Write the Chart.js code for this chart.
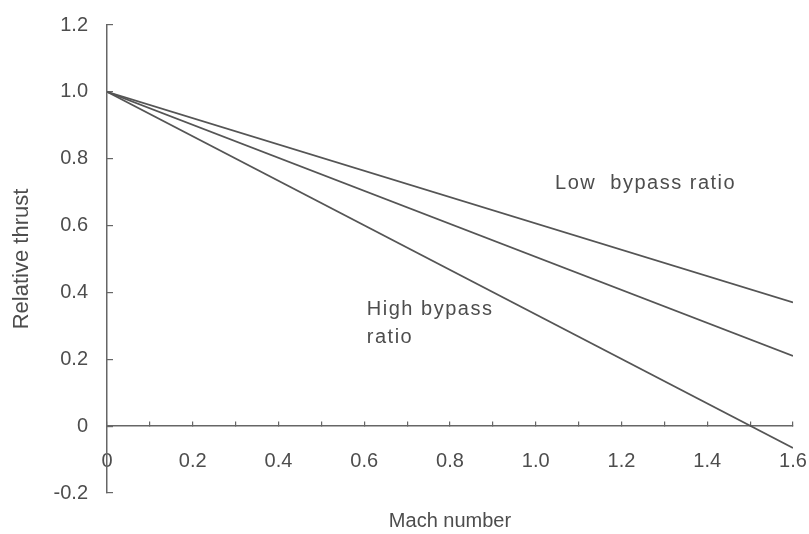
<!DOCTYPE html>
<html>
<head>
<meta charset="utf-8">
<title>Relative thrust vs Mach number</title>
<script src="https://cdn.jsdelivr.net/npm/chart.js@4"></script>
<style>
  html, body { margin: 0; padding: 0; background: #fff; }
  #wrap { width: 809px; height: 534px; }
</style>
</head>
<body>
<div id="wrap"><canvas id="chart" width="809" height="534"></canvas></div>
<script>
// Thrust lapse with Mach number for three bypass ratios (straight lines).
const MACH = [0, 1.6];
const THRUST_LOW = [1.0, 0.37];    // low bypass ratio
const THRUST_MID = [1.0, 0.21];
const THRUST_HIGH = [1.0, -0.065]; // high bypass ratio

// Axis ranges / tick steps.
const X_RANGE = [0, 1.6];
const Y_RANGE = [-0.2, 1.2];
const X_STEP = 0.1;   // small tick marks; labels every 0.2
const Y_STEP = 0.2;

// Text written onto the plot, placed in data units.
const NOTES = [
  { text: "Low  bypass ratio", x: 1.045, y: 0.709 },
  { text: "High bypass", x: 0.606, y: 0.332 },
  { text: "ratio", x: 0.606, y: 0.248 },
];

const INK = "#4d4d4d";
const LINE = "#555";

const toPoints = (ys) => MACH.map((x, i) => ({ x, y: ys[i] }));

// Format 0 as "0", everything else with one decimal.
function fmt(v) {
  return Math.abs(v) < 1e-9 ? "0" : v.toFixed(1);
}

// Draws the NOTES text at their data positions.
const notesPlugin = {
  id: "notes",
  afterDatasetsDraw(chart) {
    const { ctx, scales } = chart;
    ctx.save();
    ctx.fillStyle = INK;
    ctx.font = "20px 'Liberation Sans', Arial, sans-serif";
    ctx.letterSpacing = "1.5px";
    ctx.textAlign = "left";
    ctx.textBaseline = "alphabetic";
    NOTES.forEach((n) => {
      ctx.fillText(n.text, scales.x.getPixelForValue(n.x), scales.y.getPixelForValue(n.y));
    });
    ctx.restore();
  },
};

// Keep the plot area fixed: no extra room for overhanging tick labels.
function noOverhang(s) {
  s.paddingLeft = 0;
  s.paddingRight = 0;
}

Chart.defaults.font.family = "'Liberation Sans', Arial, sans-serif";
Chart.defaults.font.size = 20;
Chart.defaults.color = INK;

const lineStyle = {
  borderColor: LINE,
  borderWidth: 1.7,
  pointRadius: 0,
  fill: false,
  tension: 0,
};

new Chart(document.getElementById("chart"), {
  type: "line",
  data: {
    datasets: [
      { label: "Low bypass ratio", data: toPoints(THRUST_LOW), ...lineStyle },
      { label: "Intermediate", data: toPoints(THRUST_MID), ...lineStyle },
      { label: "High bypass ratio", data: toPoints(THRUST_HIGH), ...lineStyle },
    ],
  },
  options: {
    responsive: false,
    animation: false,
    layout: { padding: { top: 25, right: 16, left: 0, bottom: 0 } },
    plugins: { legend: { display: false }, tooltip: { enabled: false } },
    scales: {
      // Mach axis drawn through y = 0, ticks pointing up.
      x: {
        type: "linear",
        position: { y: 0 },
        min: X_RANGE[0],
        max: X_RANGE[1],
        border: { display: true, color: "#666", width: 1.5 },
        grid: { drawOnChartArea: false, drawTicks: true, tickLength: -5, color: "#666", lineWidth: 1.2 },
        ticks: {
          stepSize: X_STEP,
          autoSkip: false,
          maxRotation: 0,
          minRotation: 0,
          padding: 28,
          callback: (v) => (Math.round(v * 10) % 2 === 0 ? fmt(v) : ""),
        },
        afterFit: (s) => { s.height = 0; noOverhang(s); },
      },
      // Holds only the x axis title at the bottom of the canvas.
      xt: {
        type: "linear",
        position: "bottom",
        grid: { display: false, drawTicks: false },
        border: { display: false },
        ticks: { display: false },
        title: { display: true, text: "Mach number", padding: { top: 16, bottom: 1 } },
        afterFit: (s) => { s.height = 41; noOverhang(s); },
      },
      y: {
        type: "linear",
        position: "left",
        min: Y_RANGE[0],
        max: Y_RANGE[1],
        border: { display: true, color: "#666", width: 1.5 },
        grid: { drawOnChartArea: false, drawTicks: true, tickLength: -6, color: "#666", lineWidth: 1.2 },
        ticks: { stepSize: Y_STEP, padding: 25, callback: (v) => fmt(v) },
        title: {
          display: true,
          text: "Relative thrust",
          font: { size: 22 },
          padding: { top: 9, bottom: 0 },
        },
        afterFit: (s) => { s.width = 107; s.paddingTop = 0; s.paddingBottom = 0; },
      },
    },
  },
  plugins: [notesPlugin],
});
</script>
</body>
</html>
